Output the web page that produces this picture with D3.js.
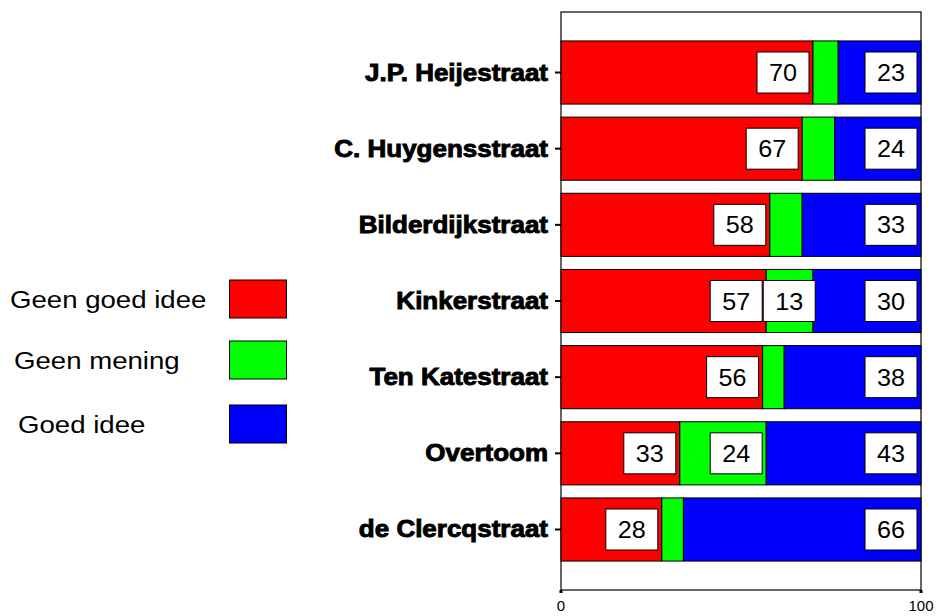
<!DOCTYPE html>
<html>
<head>
<meta charset="utf-8">
<script src="https://cdn.jsdelivr.net/npm/d3@7"></script>
<style>
  html, body { margin: 0; padding: 0; background: #fff; }
  svg { display: block; }
</style>
</head>
<body>
<svg id="chart" width="936" height="616"></svg>
<script>
// ---- data ----
const categories = ["J.P. Heijestraat", "C. Huygensstraat", "Bilderdijkstraat", "Kinkerstraat", "Ten Katestraat", "Overtoom", "de Clercqstraat"];
const seriesNames = ["Geen goed idee", "Geen mening", "Goed idee"];
const geenGoedIdee = [70, 67, 58, 57, 56, 33, 28];
const geenMening   = [7, 9, 9, 13, 6, 24, 6];
const goedIdee     = [23, 24, 33, 30, 38, 43, 66];
const xTicks = [0, 100];
const colors = ["#ff0000", "#00ff00", "#0000ff"];

(function () {
// ---- layout ----
const svg = d3.select("#chart");
const pLeft = 561, pRight = 921, pTop = 12, pBottom = 590;
const sx = 1.13;

const x = d3.scaleLinear().domain([0, 100]).range([pLeft, pRight]);
const y = d3.scaleBand().domain(categories).range([pTop, pBottom])
  .paddingInner(0.171).paddingOuter(0.38);

const seriesVals = [geenGoedIdee, geenMening, goedIdee];
const rows = categories.map((c, i) => {
  let acc = 0;
  return seriesVals.map((arr, s) => {
    const seg = { cat: c, s, v: arr[i], x0: acc, x1: acc + arr[i] };
    acc += arr[i];
    return seg;
  });
});

// plot frame
svg.append("rect").attr("x", pLeft).attr("y", pTop)
  .attr("width", pRight - pLeft).attr("height", pBottom - pTop)
  .attr("fill", "#fff").attr("stroke", "#000").attr("stroke-width", 1.2);

// bars
const g = svg.append("g");
rows.forEach(row => {
  row.forEach(seg => {
    g.append("rect")
      .attr("x", x(seg.x0)).attr("y", y(seg.cat))
      .attr("width", x(seg.x1) - x(seg.x0)).attr("height", y.bandwidth())
      .attr("fill", colors[seg.s]).attr("stroke", "#000").attr("stroke-width", 1);
  });
});

// value label boxes
const bw = 52, bh = 41;
rows.forEach(row => {
  let prevRight = -Infinity;
  row.forEach(seg => {
    if (seg.v < 10) return;
    let r = x(seg.x1) - 4;
    let l = r - bw;
    if (l < prevRight + 1) { l = prevRight + 1; r = l + bw; }
    prevRight = r;
    const cy = y(seg.cat) + y.bandwidth() / 2;
    g.append("rect").attr("x", l).attr("y", cy - bh / 2)
      .attr("width", bw).attr("height", bh)
      .attr("fill", "#fff").attr("stroke", "#000").attr("stroke-width", 1);
    g.append("text")
      .attr("transform", `translate(${l + bw / 2},${cy + 8.5}) scale(1.05,1)`)
      .attr("text-anchor", "middle")
      .attr("font-family", "Liberation Sans, Arial, sans-serif")
      .attr("font-size", 24).attr("fill", "#000")
      .text(seg.v);
  });
});

// y axis labels and ticks
categories.forEach(c => {
  const cy = y(c) + y.bandwidth() / 2;
  svg.append("line").attr("x1", 555).attr("x2", 561)
    .attr("y1", cy).attr("y2", cy)
    .attr("stroke", "#000").attr("stroke-width", 2);
  svg.append("text")
    .attr("transform", `translate(548,${cy + 8}) scale(${sx},1)`)
    .attr("text-anchor", "end")
    .attr("font-family", "Liberation Sans, Arial, sans-serif")
    .attr("font-weight", "bold")
    .attr("font-size", 23)
    .attr("stroke", "#000").attr("stroke-width", 0.9)
    .attr("fill", "#000")
    .text(c);
});

// x axis ticks & labels
xTicks.forEach(t => {
  svg.append("rect").attr("x", x(t) - 1.5).attr("y", pBottom)
    .attr("width", 3).attr("height", 3).attr("fill", "#000");
  svg.append("text")
    .attr("x", x(t)).attr("y", 611)
    .attr("text-anchor", "middle")
    .attr("font-family", "Liberation Sans, Arial, sans-serif")
    .attr("font-size", 15).attr("fill", "#000")
    .text(t);
});

// legend
const legendX = [10, 14, 18];
const legendCY = [299, 360, 424];
seriesNames.forEach((name, i) => {
  svg.append("text")
    .attr("transform", `translate(${legendX[i]},${legendCY[i] + 8.5}) scale(1.15,1)`)
    .attr("font-family", "Liberation Sans, Arial, sans-serif")
    .attr("font-size", 24).attr("fill", "#000")
    .text(name);
  svg.append("rect")
    .attr("x", 229.5).attr("y", legendCY[i] - 19)
    .attr("width", 57).attr("height", 38)
    .attr("fill", colors[i]).attr("stroke", "#000").attr("stroke-width", 1);
});
})();
</script>
</body>
</html>
